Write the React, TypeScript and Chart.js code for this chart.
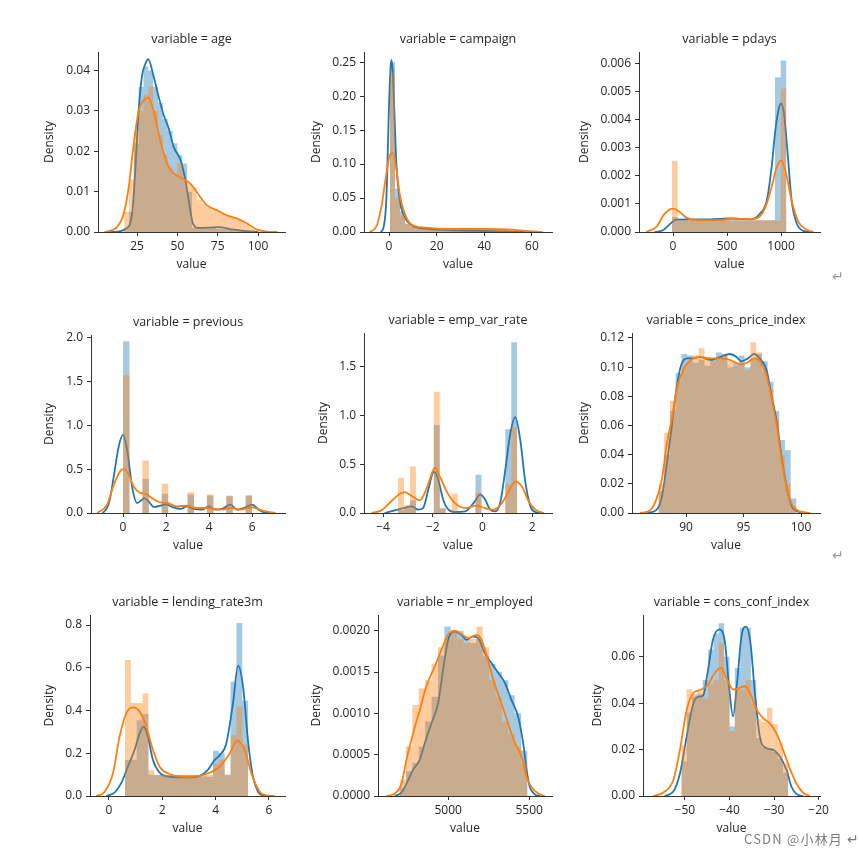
import React, { useEffect, useRef } from "react";
import { Chart, registerables } from "chart.js";

Chart.register(...registerables);

type Pt = [number, number];

const FONT = '"Open Sans", "DejaVu Sans", sans-serif';
const TEXT = "#262626";
const AXIS = "#333333";
const BLUE = "#1f77b4";
const ORANGE = "#ff7f0e";
const BLUE_FILL = "rgba(31,119,180,0.4)";
const ORANGE_FILL = "rgba(255,127,14,0.4)";

// ---------------- age ----------------
const ageEdges = [17, 20, 23, 26, 29, 32, 35, 38, 41, 44, 47, 50, 53, 56, 59, 62, 65, 68, 71, 74, 77, 80, 83, 86, 89, 92, 95, 98];
const ageBlueHist = [0.001, 0.005, 0.022, 0.036, 0.041, 0.04, 0.036, 0.032, 0.028, 0.025, 0.022, 0.019, 0.017, 0.01, 0.001, 0.001, 0.001, 0.001, 0.001, 0.0008, 0.0008, 0.0006, 0.0006, 0.0005, 0.0003, 0.0002, 0.0001];
const ageOrangeHist = [0.005, 0.013, 0.025, 0.03, 0.034, 0.036, 0.03, 0.024, 0.019, 0.016, 0.014, 0.017, 0.013, 0.012, 0.011, 0.008, 0.007, 0.006, 0.0055, 0.005, 0.0045, 0.004, 0.0035, 0.003, 0.0028, 0.0018, 0.0008];
const ageBlueKde: Pt[] = [[5, 0], [13, 0.0001], [18, 0.0008], [22, 0.0046], [24, 0.016], [26, 0.03], [28, 0.0385], [30, 0.0415], [32, 0.0428], [35, 0.039], [38.4, 0.0335], [41.5, 0.029], [44.6, 0.0257], [47.7, 0.0211], [52, 0.0178], [55, 0.0128], [57, 0.0079], [59.7, 0.002], [63, 0.001], [75, 0.0012], [85, 0.0006], [93, 0.0002], [100, 0]];
const ageOrangeKde: Pt[] = [[5, 0], [12.6, 0.0012], [16.7, 0.0045], [19.8, 0.011], [23, 0.022], [26, 0.03], [30, 0.033], [32, 0.0333], [35.3, 0.03], [38.4, 0.0244], [41.5, 0.0195], [44.6, 0.0161], [47.7, 0.0145], [53, 0.0133], [58, 0.012], [62, 0.0099], [68.4, 0.0066], [74.6, 0.0054], [80.8, 0.0041], [87, 0.0033], [93.2, 0.0021], [99.4, 0.0006], [105.6, 0.0001], [112, 0]];
const ageXTicks = [25, 50, 75, 100];
const ageYTicks = [0, 0.01, 0.02, 0.03, 0.04];

// ---------------- campaign ----------------
const campEdges = [0.4, 2.5, 4.6, 6.7, 8.8, 10.9, 13, 15.1, 17.2, 19.3, 21.4, 23.5, 25.6, 27.7, 29.8, 31.9, 34, 36.1, 38.2, 40.3, 42.4, 44.5, 46.6, 48.7, 50.8, 52.9, 55];
const campBlueHist = [0.25, 0.064, 0.03, 0.012, 0.008, 0.005, 0.004, 0.003, 0.002, 0.002, 0.002, 0.0015, 0.0015, 0.001, 0.001, 0.001, 0.001, 0.001, 0.0008, 0.0008, 0.0005, 0.0005, 0.0005, 0.0003, 0.0003, 0.0002];
const campOrangeHist = [0.235, 0.05, 0.025, 0.012, 0.008, 0.006, 0.005, 0.0045, 0.004, 0.004, 0.004, 0.004, 0.004, 0.004, 0.004, 0.004, 0.004, 0.004, 0.004, 0.004, 0.004, 0.004, 0.0035, 0.003, 0.002, 0.001];
const campBlueKde: Pt[] = [[-3.5, 0], [-2.2, 0.008], [-1.1, 0.05], [0, 0.185], [0.6, 0.24], [1, 0.253], [1.5, 0.24], [2.1, 0.19], [3.1, 0.1], [4.5, 0.047], [6.6, 0.022], [9.4, 0.01], [15, 0.005], [26, 0.0025], [40, 0.0015], [54.5, 0.0006], [64, 0]];
const campOrangeKde: Pt[] = [[-8.2, 0], [-5.4, 0.0074], [-3.2, 0.037], [-1.1, 0.086], [0.3, 0.113], [1.7, 0.1164], [3.1, 0.091], [4.5, 0.056], [6.6, 0.027], [9.4, 0.011], [15, 0.0064], [26.3, 0.0044], [40.4, 0.0044], [51.7, 0.0034], [57.3, 0.0015], [64.4, 0]];
const campXTicks = [0, 20, 40, 60];
const campYTicks = [0, 0.05, 0.1, 0.15, 0.2, 0.25];

// ---------------- pdays ----------------
const pdaysEdges = [-10, 43, 96, 149, 202, 255, 308, 361, 414, 467, 520, 573, 626, 679, 732, 785, 838, 891, 944, 997, 1050];
const pdaysBlueHist = [0.00053, 0.00042, 0.00042, 0.00042, 0.00042, 0.00042, 0.00042, 0.00042, 0.00042, 0.00042, 0.00042, 0.00042, 0.00042, 0.00042, 0.00042, 0.00042, 0.00042, 0.00042, 0.0055, 0.0061];
const pdaysOrangeHist = [0.00253, 0.00042, 0.00042, 0.00042, 0.00042, 0.00042, 0.00042, 0.00042, 0.00042, 0.00042, 0.00042, 0.00042, 0.00042, 0.00042, 0.00042, 0.00042, 0.00042, 0.00042, 0.0004, 0.0051];
const pdaysBlueKde: Pt[] = [[-170, 0], [-93, 0.00006], [-31, 0.00027], [31, 0.00044], [155, 0.00045], [340, 0.00045], [526, 0.00048], [712, 0.00045], [805, 0.00065], [867, 0.0011], [913, 0.0023], [944, 0.0035], [975, 0.0043], [1000, 0.00457], [1028, 0.0042], [1059, 0.0029], [1099, 0.0011], [1146, 0.0003], [1207, 0.00004], [1270, 0]];
const pdaysOrangeKde: Pt[] = [[-248, 0], [-155, 0.00018], [-77, 0.00065], [0, 0.00083], [62, 0.00071], [124, 0.00051], [217, 0.00042], [433, 0.00042], [557, 0.00048], [712, 0.00045], [805, 0.00056], [867, 0.001], [913, 0.0016], [960, 0.0023], [1000, 0.00255], [1046, 0.0021], [1099, 0.0011], [1161, 0.00036], [1238, 0.00008], [1300, 0]];
const pdaysXTicks = [0, 500, 1000];
const pdaysYTicks = [0, 0.001, 0.002, 0.003, 0.004, 0.005, 0.006];

// ---------------- previous ----------------
const prevEdges = [0, 0.3, 0.6, 0.9, 1.2, 1.5, 1.8, 2.1, 2.4, 2.7, 3.0, 3.3, 3.6, 3.9, 4.2, 4.5, 4.8, 5.1, 5.4, 5.7, 6.0];
const prevBlueHist = [1.96, 0, 0, 0.39, 0, 0, 0.22, 0, 0, 0, 0.21, 0, 0, 0.2, 0, 0, 0.19, 0, 0, 0.2];
const prevOrangeHist = [1.57, 0, 0, 0.6, 0, 0, 0.335, 0, 0, 0, 0.236, 0, 0, 0.21, 0, 0, 0.2, 0, 0, 0.2];
const prevBlueKde: Pt[] = [[-0.95, 0], [-0.74, 0.06], [-0.6, 0.17], [-0.43, 0.42], [-0.2, 0.76], [0, 0.89], [0.19, 0.72], [0.42, 0.3], [0.65, 0.114], [0.88, 0.15], [1.0, 0.17], [1.2, 0.13], [1.43, 0.069], [1.74, 0.084], [2.0, 0.1], [2.28, 0.069], [2.67, 0.046], [2.98, 0.076], [3.29, 0.046], [3.67, 0.038], [3.98, 0.076], [4.29, 0.038], [4.6, 0.046], [4.99, 0.095], [5.3, 0.038], [5.61, 0.057], [6.0, 0.095], [6.31, 0.038], [6.54, 0.008], [6.85, 0]];
const prevOrangeKde: Pt[] = [[-1.2, 0], [-0.74, 0.095], [-0.43, 0.32], [-0.12, 0.48], [0.03, 0.5], [0.26, 0.44], [0.5, 0.3], [0.81, 0.23], [1.04, 0.22], [1.35, 0.17], [1.74, 0.12], [2.05, 0.114], [2.5, 0.076], [2.98, 0.084], [3.44, 0.057], [3.98, 0.057], [4.53, 0.038], [5.0, 0.057], [5.46, 0.038], [6.0, 0.065], [6.54, 0.023], [7.09, 0]];
const prevXTicks = [0, 2, 4, 6];
const prevYTicks = [0, 0.5, 1.0, 1.5, 2.0];

// ---------------- emp_var_rate ----------------
const empEdges = [-3.4, -3.16, -2.92, -2.68, -2.44, -2.2, -1.96, -1.72, -1.48, -1.24, -1.0, -0.76, -0.52, -0.28, -0.04, 0.2, 0.44, 0.68, 0.92, 1.16, 1.4];
const empBlueHist = [0.03, 0.06, 0.13, 0, 0, 0, 0.9, 0.05, 0, 0.02, 0, 0, 0, 0.39, 0, 0, 0, 0, 0.855, 1.745];
const empOrangeHist = [0.36, 0.08, 0.475, 0, 0, 0, 1.24, 0.04, 0, 0.2, 0, 0, 0, 0.21, 0, 0, 0, 0, 0.295, 0.88];
const empBlueKde: Pt[] = [[-3.94, 0], [-3.53, 0.027], [-3.26, 0.044], [-2.86, 0.068], [-2.59, 0.034], [-2.39, 0.05], [-2.18, 0.24], [-2.0, 0.41], [-1.94, 0.42], [-1.78, 0.34], [-1.58, 0.136], [-1.37, 0.034], [-1.1, 0.01], [-0.7, 0.017], [-0.36, 0.1], [-0.09, 0.187], [0.11, 0.136], [0.31, 0.034], [0.51, 0.017], [0.71, 0.1], [0.92, 0.44], [1.12, 0.81], [1.32, 0.98], [1.52, 0.75], [1.73, 0.31], [1.93, 0.068], [2.13, 0.01], [2.33, 0]];
const empOrangeKde: Pt[] = [[-4.47, 0], [-4.07, 0.027], [-3.67, 0.12], [-3.33, 0.197], [-3.13, 0.214], [-2.86, 0.176], [-2.52, 0.13], [-2.25, 0.25], [-1.98, 0.44], [-1.91, 0.46], [-1.71, 0.37], [-1.44, 0.22], [-1.1, 0.1], [-0.7, 0.05], [-0.23, 0.075], [0.11, 0.05], [0.44, 0.034], [0.78, 0.1], [1.05, 0.22], [1.32, 0.32], [1.59, 0.27], [1.86, 0.12], [2.13, 0.034], [2.47, 0]];
const empXTicks = [-4, -2, 0, 2];
const empYTicks = [0, 0.5, 1.0, 1.5];

// ---------------- cons_price_index ----------------
const cpiEdges = [87.6, 88.1, 88.6, 89.1, 89.6, 90.1, 90.6, 91.1, 91.6, 92.1, 92.6, 93.1, 93.6, 94.1, 94.6, 95.1, 95.6, 96.1, 96.6, 97.1, 97.6, 98.1, 98.6, 99.1, 99.6];
const cpiBlueHist = [0.015, 0.04, 0.07, 0.096, 0.109, 0.108, 0.103, 0.105, 0.101, 0.105, 0.11, 0.109, 0.1, 0.103, 0.108, 0.1, 0.105, 0.109, 0.104, 0.09, 0.07, 0.05, 0.043, 0.01];
const cpiOrangeHist = [0.02, 0.055, 0.077, 0.09, 0.1, 0.104, 0.108, 0.113, 0.107, 0.104, 0.106, 0.108, 0.104, 0.101, 0.102, 0.098, 0.117, 0.11, 0.097, 0.085, 0.065, 0.04, 0.02, 0.005];
const cpiBlueKde: Pt[] = [[86.6, 0], [87.4, 0.002], [87.9, 0.011], [88.3, 0.032], [88.8, 0.062], [89.2, 0.087], [89.6, 0.102], [90.1, 0.106], [90.6, 0.106], [91.2, 0.107], [92.1, 0.105], [93.0, 0.107], [93.8, 0.109], [94.4, 0.107], [94.8, 0.104], [95.4, 0.106], [95.9, 0.109], [96.4, 0.106], [97.0, 0.098], [97.4, 0.082], [97.9, 0.062], [98.3, 0.039], [98.8, 0.016], [99.2, 0.0046], [99.6, 0.0014], [100.5, 0]];
const cpiOrangeKde: Pt[] = [[86.0, 0], [86.9, 0.002], [87.4, 0.009], [87.9, 0.023], [88.3, 0.046], [88.8, 0.066], [89.2, 0.085], [89.8, 0.099], [90.3, 0.104], [91.2, 0.107], [92.1, 0.106], [93.0, 0.106], [93.8, 0.105], [94.7, 0.102], [95.3, 0.103], [95.9, 0.106], [96.4, 0.104], [97.0, 0.094], [97.4, 0.08], [97.9, 0.059], [98.3, 0.037], [98.8, 0.016], [99.3, 0.0046], [99.9, 0.0011], [100.8, 0]];
const cpiXTicks = [90, 95, 100];
const cpiYTicks = [0, 0.02, 0.04, 0.06, 0.08, 0.1, 0.12];

// ---------------- lending_rate3m ----------------
const lendEdges = [0.6, 0.82, 1.04, 1.26, 1.48, 1.7, 1.92, 2.14, 2.36, 2.58, 2.8, 3.02, 3.24, 3.46, 3.68, 3.9, 4.12, 4.34, 4.56, 4.78, 5.0, 5.22];
const lendBlueHist = [0.168, 0.17, 0.355, 0.384, 0.1, 0.098, 0.098, 0.098, 0.098, 0.098, 0.098, 0.098, 0.098, 0.092, 0.09, 0.212, 0.2, 0.1, 0.535, 0.81, 0.446];
const lendOrangeHist = [0.636, 0.435, 0.435, 0.48, 0.12, 0.098, 0.098, 0.098, 0.098, 0.098, 0.098, 0.098, 0.098, 0.098, 0.098, 0.15, 0.17, 0.1, 0.285, 0.418, 0.24];
const lendBlueKde: Pt[] = [[-0.1, 0], [0.21, 0.016], [0.46, 0.06], [0.71, 0.137], [0.96, 0.215], [1.15, 0.293], [1.3, 0.325], [1.46, 0.278], [1.65, 0.168], [1.9, 0.109], [2.28, 0.09], [2.9, 0.087], [3.4, 0.094], [3.71, 0.122], [3.96, 0.168], [4.15, 0.19], [4.4, 0.246], [4.65, 0.434], [4.84, 0.61], [5.03, 0.51], [5.21, 0.262], [5.4, 0.09], [5.59, 0.02], [5.78, 0.003], [5.96, 0]];
const lendOrangeKde: Pt[] = [[-0.48, 0], [-0.16, 0.02], [0.15, 0.106], [0.4, 0.278], [0.65, 0.387], [0.9, 0.415], [1.15, 0.395], [1.4, 0.325], [1.65, 0.215], [1.9, 0.137], [2.28, 0.103], [2.9, 0.09], [3.65, 0.103], [4.15, 0.137], [4.53, 0.2], [4.8, 0.259], [5.09, 0.215], [5.34, 0.106], [5.65, 0.02], [5.9, 0.003], [6.21, 0]];
const lendXTicks = [0, 2, 4, 6];
const lendYTicks = [0, 0.2, 0.4, 0.6, 0.8];

// ---------------- nr_employed ----------------
const nrEdges = [4700, 4739.5, 4779, 4818.5, 4858, 4897.5, 4937, 4976.5, 5016, 5055.5, 5095, 5134.5, 5174, 5213.5, 5253, 5292.5, 5332, 5371.5, 5411, 5450.5, 5490];
const nrBlueHist = [0.0001, 0.0003, 0.0004, 0.0006, 0.0009, 0.0012, 0.0017, 0.00205, 0.00198, 0.002, 0.0019, 0.00185, 0.0019, 0.0017, 0.0016, 0.0015, 0.0014, 0.00122, 0.001, 0.00055];
const nrOrangeHist = [0.0002, 0.0006, 0.0011, 0.0013, 0.0014, 0.0016, 0.0018, 0.0019, 0.002, 0.0019, 0.00185, 0.0019, 0.00205, 0.0018, 0.0014, 0.0012, 0.0009, 0.00075, 0.0006, 0.0004];
const nrBlueKde: Pt[] = [[4671, 0], [4712, 0.00004], [4743, 0.00015], [4784, 0.00032], [4825, 0.00044], [4856, 0.00064], [4897, 0.00088], [4938, 0.00112], [4969, 0.00153], [5000, 0.00189], [5041, 0.00199], [5082, 0.00195], [5113, 0.00189], [5154, 0.00193], [5185, 0.00191], [5226, 0.00173], [5267, 0.00161], [5309, 0.00149], [5350, 0.00137], [5391, 0.00116], [5432, 0.00096], [5463, 0.00064], [5484, 0.00032], [5504, 0.00011], [5535, 0.00002], [5566, 0]];
const nrOrangeKde: Pt[] = [[4619, 0], [4671, 0.00003], [4712, 0.00015], [4743, 0.00044], [4784, 0.00076], [4825, 0.00104], [4866, 0.00133], [4918, 0.00157], [4959, 0.00177], [5000, 0.00195], [5041, 0.002], [5082, 0.00196], [5123, 0.00191], [5175, 0.00195], [5206, 0.00189], [5237, 0.00171], [5278, 0.00141], [5329, 0.00112], [5370, 0.00088], [5412, 0.00064], [5453, 0.00048], [5484, 0.00023], [5514, 0.00011], [5556, 0.00003], [5597, 0]];
const nrXTicks = [5000, 5500];
const nrYTicks = [0, 0.0005, 0.001, 0.0015, 0.002];

// ---------------- cons_conf_index ----------------
const confEdges = [-50.8, -49.6, -48.4, -47.2, -46.0, -44.8, -43.6, -42.4, -41.2, -40.0, -38.8, -37.6, -36.4, -35.2, -34.0, -32.8, -31.6, -30.4, -29.2, -28.0, -26.8];
const confBlueHist = [0.015, 0.036, 0.043, 0.044, 0.05, 0.063, 0.07, 0.0744, 0.06, 0.03, 0.055, 0.0725, 0.0725, 0.05, 0.025, 0.021, 0.02, 0.019, 0.016, 0.01];
const confOrangeHist = [0.022, 0.046, 0.044, 0.045, 0.042, 0.048, 0.05, 0.066, 0.05, 0.028, 0.046, 0.046, 0.05, 0.04, 0.033, 0.032, 0.038, 0.031, 0.023, 0.014];
const confBlueKde: Pt[] = [[-54.5, 0], [-52.6, 0.0019], [-51.1, 0.0098], [-49.6, 0.0257], [-48.1, 0.04], [-47.0, 0.0427], [-45.9, 0.0433], [-44.8, 0.0545], [-43.7, 0.0675], [-42.2, 0.0718], [-41.0, 0.066], [-40.1, 0.047], [-39.2, 0.0343], [-38.3, 0.0487], [-37.3, 0.069], [-36.3, 0.073], [-35.3, 0.066], [-34.3, 0.0444], [-33.2, 0.0257], [-31.7, 0.0206], [-30.2, 0.0199], [-28.7, 0.017], [-27.2, 0.0112], [-26.1, 0.004], [-25, 0.0009], [-23.5, 0]];
const confOrangeKde: Pt[] = [[-57.1, 0], [-54.9, 0.0014], [-52.6, 0.0069], [-51.1, 0.02], [-49.6, 0.0372], [-48.1, 0.0444], [-46.3, 0.0459], [-44.8, 0.048], [-43.3, 0.053], [-41.9, 0.0552], [-40.7, 0.0509], [-39.2, 0.0459], [-37.7, 0.0466], [-36.6, 0.0473], [-35.4, 0.0444], [-33.9, 0.0372], [-32.5, 0.0336], [-31.0, 0.0314], [-29.5, 0.0271], [-28.0, 0.02], [-26.5, 0.012], [-25.0, 0.0055], [-23.5, 0.0014], [-22.0, 0]];
const confXTicks = [-50, -40, -30, -20];
const confYTicks = [0, 0.02, 0.04, 0.06];

interface PanelCfg {
  title: string;
  edges: number[];
  blueHist: number[];
  orangeHist: number[];
  blueKde: Pt[];
  orangeKde: Pt[];
  xMin: number;
  xMax: number;
  yMax: number;
  xTicks: number[];
  yTicks: number[];
  yDec: number;
  box: [number, number, number, number]; // plot area left, top, right, bottom in page px
  densityGap: number;
}

const PANELS: PanelCfg[] = [
  { title: "variable = age", edges: ageEdges, blueHist: ageBlueHist, orangeHist: ageOrangeHist, blueKde: ageBlueKde, orangeKde: ageOrangeKde, xMin: 0.8, xMax: 116.7, yMax: 0.0446, xTicks: ageXTicks, yTicks: ageYTicks, yDec: 2, box: [98, 52, 285, 232], densityGap: 48 },
  { title: "variable = campaign", edges: campEdges, blueHist: campBlueHist, orangeHist: campOrangeHist, blueKde: campBlueKde, orangeKde: campOrangeKde, xMin: -10.5, xMax: 68.4, yMax: 0.265, xTicks: campXTicks, yTicks: campYTicks, yDec: 2, box: [364, 52, 552, 232], densityGap: 47 },
  { title: "variable = pdays", edges: pdaysEdges, blueHist: pdaysBlueHist, orangeHist: pdaysOrangeHist, blueKde: pdaysBlueKde, orangeKde: pdaysOrangeKde, xMin: -315, xMax: 1361, yMax: 0.0064, xTicks: pdaysXTicks, yTicks: pdaysYTicks, yDec: 3, box: [639, 52, 820, 232], densityGap: 54 },
  { title: "variable = previous", edges: prevEdges, blueHist: prevBlueHist, orangeHist: prevOrangeHist, blueKde: prevBlueKde, orangeKde: prevOrangeKde, xMin: -1.49, xMax: 7.53, yMax: 2.03, xTicks: prevXTicks, yTicks: prevYTicks, yDec: 1, box: [91, 335, 285, 513], densityGap: 41 },
  { title: "variable = emp_var_rate", edges: empEdges, blueHist: empBlueHist, orangeHist: empOrangeHist, blueKde: empBlueKde, orangeKde: empOrangeKde, xMin: -4.77, xMax: 2.8, yMax: 1.84, xTicks: empXTicks, yTicks: empYTicks, yDec: 1, box: [364, 333, 552, 513], densityGap: 40 },
  { title: "variable = cons_price_index", edges: cpiEdges, blueHist: cpiBlueHist, orangeHist: cpiOrangeHist, blueKde: cpiBlueKde, orangeKde: cpiOrangeKde, xMin: 85.3, xMax: 101.65, yMax: 0.1234, xTicks: cpiXTicks, yTicks: cpiYTicks, yDec: 2, box: [632, 333, 820, 513], densityGap: 47 },
  { title: "variable = lending_rate3m", edges: lendEdges, blueHist: lendBlueHist, orangeHist: lendOrangeHist, blueKde: lendBlueKde, orangeKde: lendOrangeKde, xMin: -0.71, xMax: 6.6, yMax: 0.847, xTicks: lendXTicks, yTicks: lendYTicks, yDec: 1, box: [90, 615, 285, 796], densityGap: 40 },
  { title: "variable = nr_employed", edges: nrEdges, blueHist: nrBlueHist, orangeHist: nrOrangeHist, blueKde: nrBlueKde, orangeKde: nrOrangeKde, xMin: 4567, xMax: 5641, yMax: 0.00219, xTicks: nrXTicks, yTicks: nrYTicks, yDec: 4, box: [378, 615, 552, 796], densityGap: 61 },
  { title: "variable = cons_conf_index", edges: confEdges, blueHist: confBlueHist, orangeHist: confOrangeHist, blueKde: confBlueKde, orangeKde: confOrangeKde, xMin: -59.4, xMax: -19.7, yMax: 0.078, xTicks: confXTicks, yTicks: confYTicks, yDec: 2, box: [643, 615, 820, 796], densityGap: 45 },
];

const LEFT_SPACE = 80;
const TOP_SPACE = 30;
const RIGHT_SPACE = 20;
const BOTTOM_SPACE = 50;

function histPoints(edges: number[], h: number[]) {
  const pts: { x: number; y: number }[] = [{ x: edges[0], y: 0 }];
  for (let i = 0; i < h.length; i++) pts.push({ x: edges[i], y: h[i] });
  pts.push({ x: edges[h.length], y: h[h.length - 1] });
  pts.push({ x: edges[h.length], y: 0 });
  return pts;
}

function fmtNum(v: number, dec: number) {
  const s = Number(v).toFixed(dec);
  return s.startsWith("-") ? "\u2212" + s.slice(1) : s;
}

function Panel({ cfg }: { cfg: PanelCfg }) {
  const ref = useRef<HTMLCanvasElement>(null);
  const [l, t, r, b] = cfg.box;
  const W = r - l + LEFT_SPACE + RIGHT_SPACE;
  const H = b - t + TOP_SPACE + BOTTOM_SPACE;

  useEffect(() => {
    const canvas = ref.current;
    if (!canvas) return;
    const tickFont = { family: FONT, size: 12 };
    const titlePlugin = {
      id: "facetTitle",
      afterDraw(chart: any) {
        const { ctx, chartArea } = chart;
        ctx.save();
        ctx.font = `12.5px ${FONT}`;
        ctx.fillStyle = TEXT;
        ctx.textAlign = "center";
        ctx.textBaseline = "middle";
        ctx.fillText(cfg.title, (chartArea.left + chartArea.right) / 2, chartArea.top - 12.5);
        ctx.restore();
      },
    };
    const kdeCommon = {
      borderWidth: 1.8,
      pointRadius: 0,
      pointHoverRadius: 0,
      fill: false,
      cubicInterpolationMode: "monotone" as const,
    };
    const histCommon = {
      borderWidth: 0,
      borderColor: "rgba(0,0,0,0)",
      pointRadius: 0,
      pointHoverRadius: 0,
      fill: "origin",
      stepped: true,
    };
    const chart = new Chart(canvas, {
      type: "line",
      data: {
        datasets: [
          { ...kdeCommon, data: cfg.orangeKde.map(([x, y]) => ({ x, y })), borderColor: ORANGE, order: 1 },
          { ...histCommon, data: histPoints(cfg.edges, cfg.orangeHist), backgroundColor: ORANGE_FILL, order: 2 },
          { ...kdeCommon, data: cfg.blueKde.map(([x, y]) => ({ x, y })), borderColor: BLUE, order: 3 },
          { ...histCommon, data: histPoints(cfg.edges, cfg.blueHist), backgroundColor: BLUE_FILL, order: 4 },
        ] as any,
      },
      options: {
        animation: false,
        responsive: false,
        maintainAspectRatio: false,
        devicePixelRatio: 1,
        events: [],
        layout: { padding: { left: 0, top: TOP_SPACE, right: RIGHT_SPACE, bottom: 0 } },
        plugins: { legend: { display: false }, tooltip: { enabled: false }, title: { display: false } },
        scales: {
          x: {
            type: "linear",
            bounds: "data",
            min: cfg.xMin,
            max: cfg.xMax,
            afterBuildTicks: (s: any) => {
              s.ticks = cfg.xTicks.map((v) => ({ value: v }));
            },
            afterFit: (s: any) => {
              s.height = BOTTOM_SPACE;
            },
            ticks: {
              font: tickFont,
              color: TEXT,
              padding: 3,
              autoSkip: false,
              maxRotation: 0,
              minRotation: 0,
              callback: (v: any) => fmtNum(Number(v), 0),
            },
            grid: { display: true, drawOnChartArea: false, drawTicks: true, tickLength: 4, color: AXIS, lineWidth: 1 },
            border: { display: true, color: AXIS, width: 1 },
            title: { display: true, text: "value", font: tickFont, color: TEXT, padding: { top: 0, bottom: 9.8 } },
          },
          y: {
            type: "linear",
            bounds: "data",
            min: 0,
            max: cfg.yMax,
            afterBuildTicks: (s: any) => {
              s.ticks = cfg.yTicks.map((v) => ({ value: v }));
            },
            afterFit: (s: any) => {
              s.width = LEFT_SPACE;
            },
            ticks: {
              font: tickFont,
              color: TEXT,
              padding: 4,
              autoSkip: false,
              callback: (v: any) => fmtNum(Number(v), cfg.yDec),
            },
            grid: { display: true, drawOnChartArea: false, drawTicks: true, tickLength: 4, color: AXIS, lineWidth: 1 },
            border: { display: true, color: AXIS, width: 1 },
            title: {
              display: true,
              text: "Density",
              font: tickFont,
              color: TEXT,
              padding: { top: LEFT_SPACE - cfg.densityGap - 7.2, bottom: 0 },
            },
          },
        },
      } as any,
      plugins: [titlePlugin],
    });
    return () => chart.destroy();
  }, [cfg]);

  return (
    <canvas
      ref={ref}
      width={W}
      height={H}
      style={{ position: "absolute", left: l - LEFT_SPACE, top: t - TOP_SPACE, width: W, height: H }}
    />
  );
}

export default function App() {
  return (
    <div style={{ position: "absolute", left: 0, top: 0, width: 858, height: 856, background: "#ffffff", overflow: "hidden" }}>
      {PANELS.map((p) => (
        <Panel key={p.title} cfg={p} />
      ))}
      <span style={{ position: "absolute", left: 832, top: 266, fontSize: 14, color: "#9a9a9a", fontFamily: FONT }}>↵</span>
      <span style={{ position: "absolute", left: 832, top: 545, fontSize: 14, color: "#9a9a9a", fontFamily: FONT }}>↵</span>
      <span style={{ position: "absolute", left: 744, top: 829, fontSize: 13, letterSpacing: "1.2px", color: "rgba(80,80,80,0.75)", fontFamily: '"Noto Sans CJK SC", sans-serif', whiteSpace: "nowrap" }}>CSDN @小林月</span>
      <span style={{ position: "absolute", left: 847, top: 829, fontSize: 14, color: "#777", fontFamily: FONT }}>↵</span>
    </div>
  );
}
